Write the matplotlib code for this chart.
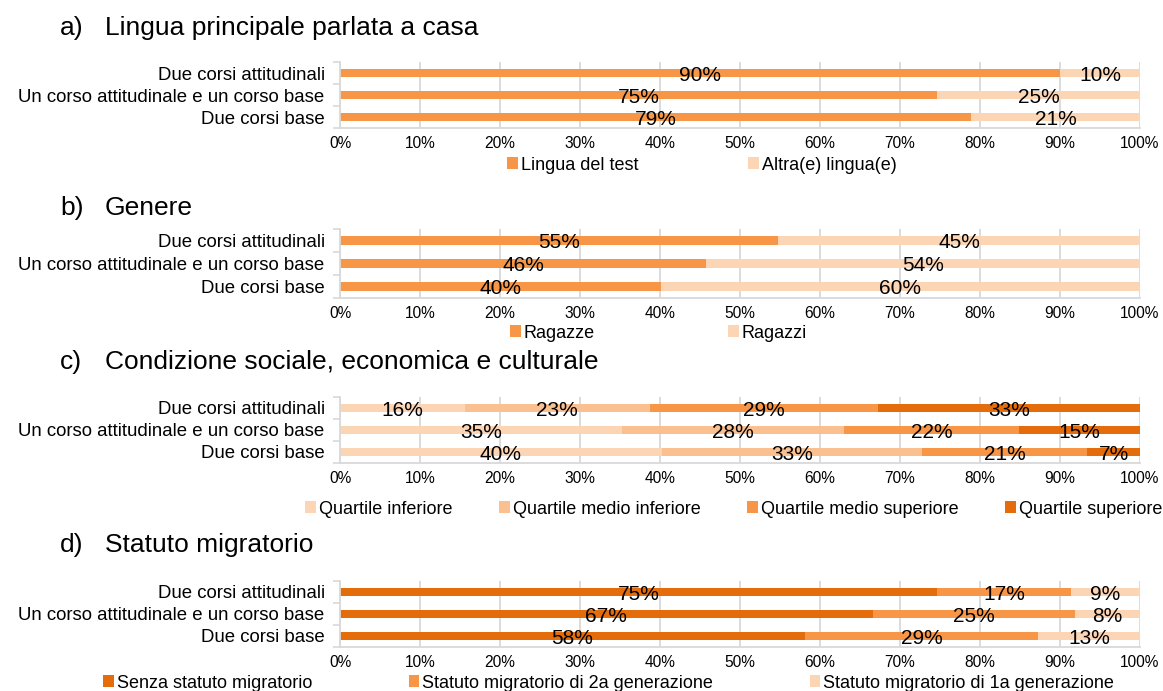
import numpy as np
import matplotlib
matplotlib.use("Agg")
import matplotlib.pyplot as plt
from matplotlib.patches import Patch
from matplotlib.ticker import FixedLocator, PercentFormatter

plt.rcParams['font.family'] = ['Liberation Sans', 'DejaVu Sans']

categorie = ["Due corsi attitudinali",
             "Un corso attitudinale e un corso base",
             "Due corsi base"]

# a) lingua principale parlata a casa
lingua_test = [90.0, 74.6, 78.9]
altra_lingua = [10.0, 25.4, 21.1]

# b) genere
ragazze = [54.8, 45.8, 40.1]
ragazzi = [45.2, 54.2, 59.9]

# c) condizione sociale, economica e culturale
quartile_inf = [15.6, 35.2, 40.2]
quartile_medio_inf = [23.1, 27.8, 32.6]
quartile_medio_sup = [28.6, 21.9, 20.6]
quartile_sup = [32.7, 15.1, 6.6]

# d) statuto migratorio
senza_statuto = [74.6, 66.6, 58.1]
statuto_2a = [16.8, 25.3, 29.2]
statuto_1a = [8.6, 8.1, 12.7]

ARANCIO = "#F79646"
ARANCIO_CHIARO = "#FCD5B5"
ARANCIO_MEDIO = "#FAC090"
ARANCIO_SCURO = "#E46C0A"
GRIGIO = "#D9D9D9"

W, H = 1163, 691


def fx(x):
    return x / W


def fy(y):
    return 1 - y / H


def pannello(fig, lettera, titolo, serie, nomi, colori,
             top, bottom, title_y, legend_x, legend_y, colspacing):
    ax = fig.add_axes([fx(340), fy(bottom), fx(1140) - fx(340), (bottom - top) / H])
    pos = np.arange(len(categorie))
    left = np.zeros(len(categorie))
    for valori, col in zip(serie, colori):
        valori = np.array(valori)
        ax.barh(pos, valori, left=left, height=0.4, color=col, zorder=2)
        # etichetta percentuale al centro di ogni segmento
        for y, l, v in zip(pos, left, valori):
            ax.text(l + v / 2, y + 0.1, f"{v:.0f}%", ha="center", va="center",
                    fontsize=15, color="black", zorder=3)
        left = left + valori

    ax.set_xlim(0, 100)
    ax.set_ylim(len(categorie) - 0.5, -0.5)
    ax.set_xticks(np.arange(0, 101, 10))
    ax.xaxis.set_major_formatter(PercentFormatter(decimals=0))
    ax.tick_params(axis="x", length=0, labelsize=11.2, pad=6)
    ax.set_yticks(pos)
    ax.set_yticklabels(categorie)
    ax.tick_params(axis="y", which="major", length=0, labelsize=13.4, pad=11)
    ax.yaxis.set_minor_locator(FixedLocator(np.arange(-0.5, len(categorie), 1)))
    ax.tick_params(axis="y", which="minor", length=5, color=GRIGIO, width=1.2)
    ax.grid(axis="x", color=GRIGIO, linewidth=1.3, zorder=0)
    ax.set_axisbelow(True)
    for lato in ["top", "right"]:
        ax.spines[lato].set_visible(False)
    for lato in ["left", "bottom"]:
        ax.spines[lato].set_color(GRIGIO)
        ax.spines[lato].set_linewidth(1.3)

    fig.text(fx(60), fy(title_y), lettera, fontsize=19, va="center", ha="left")
    fig.text(fx(105), fy(title_y), titolo, fontsize=19, va="center", ha="left")

    handles = [Patch(facecolor=c, edgecolor="none") for c in colori]
    fig.legend(handles, nomi, loc="center left", bbox_to_anchor=(fx(legend_x), fy(legend_y)),
               ncol=len(nomi), frameon=False, fontsize=13, handlelength=0.6,
               handleheight=0.6, handletextpad=0.15, columnspacing=colspacing,
               borderpad=0, borderaxespad=0)
    return ax


fig = plt.figure(figsize=(W / 100, H / 100), dpi=100)

pannello(fig, "a)", "Lingua principale parlata a casa",
         [lingua_test, altra_lingua], ["Lingua del test", "Altra(e) lingua(e)"],
         [ARANCIO, ARANCIO_CHIARO],
         top=62, bottom=128, title_y=28, legend_x=507, legend_y=165, colspacing=6.1)

pannello(fig, "b)", "Genere",
         [ragazze, ragazzi], ["Ragazze", "Ragazzi"],
         [ARANCIO, ARANCIO_CHIARO],
         top=229, bottom=298, title_y=208, legend_x=510, legend_y=333, colspacing=7.4)

pannello(fig, "c)", "Condizione sociale, economica e culturale",
         [quartile_inf, quartile_medio_inf, quartile_medio_sup, quartile_sup],
         ["Quartile inferiore", "Quartile medio inferiore",
          "Quartile medio superiore", "Quartile superiore"],
         [ARANCIO_CHIARO, ARANCIO_MEDIO, ARANCIO, ARANCIO_SCURO],
         top=397, bottom=463, title_y=362, legend_x=305, legend_y=509, colspacing=2.6)

pannello(fig, "d)", "Statuto migratorio",
         [senza_statuto, statuto_2a, statuto_1a],
         ["Senza statuto migratorio", "Statuto migratorio di 2a generazione",
          "Statuto migratorio di 1a generazione"],
         [ARANCIO_SCURO, ARANCIO, ARANCIO_CHIARO],
         top=581, bottom=647, title_y=545, legend_x=103, legend_y=683, colspacing=5.35)

fig.savefig("out.png", dpi=100)
